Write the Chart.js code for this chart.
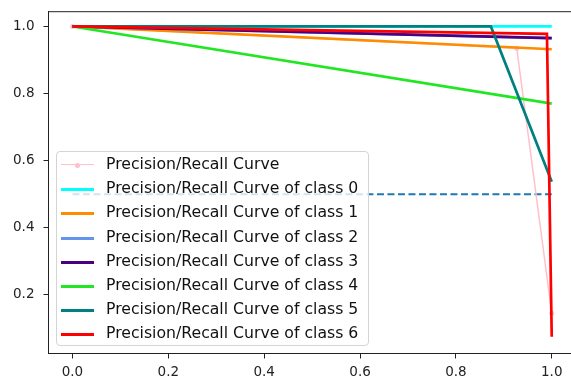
<!DOCTYPE html>
<html>
<head>
<meta charset="utf-8">
<script src="https://cdn.jsdelivr.net/npm/chart.js@4/dist/chart.umd.min.js"></script>
<style>
  body { margin: 0; background: #fff; }
  #wrap { position: relative; width: 571px; height: 379px; overflow: hidden; }
  #prChart { position: absolute; left: 0; top: 0; }
  #legend {
    position: absolute; left: 56px; top: 151px; width: 311px; height: 193px;
    border: 1px solid #d4d4d4; border-radius: 4px;
    background: rgba(255, 255, 255, 0.8);
    font-family: "DejaVu Sans", sans-serif; font-size: 15.7px; color: #111;
  }
  .row { position: absolute; left: 0; height: 24px; width: 100%; }
  .handle { position: absolute; left: 4px; width: 33px; top: 11px; }
  .dot { position: absolute; left: 14px; top: -2px; width: 5px; height: 5px; border-radius: 50%; }
  .label { position: absolute; left: 49px; top: 1px; white-space: nowrap; line-height: 20px; }
</style>
</head>
<body>
<div id="wrap">
  <canvas id="prChart" width="580" height="379"></canvas>
  <div id="legend"></div>
</div>
<script>
// recall (x) / precision (y)
const recallAll = [0.0, 0.927, 1.0];
const precisionAll = [1.0, 0.935, 0.145];

const recall0 = [0.0, 1.0];
const precision0 = [1.0, 1.0];
const recall1 = [0.0, 1.0];
const precision1 = [1.0, 0.932];
const recall2 = [0.0, 1.0];
const precision2 = [1.0, 0.965];
const recall3 = [0.0, 1.0];
const precision3 = [1.0, 0.965];
const recall4 = [0.0, 1.0];
const precision4 = [1.0, 0.77];
const recall5 = [0.0, 0.873, 1.0];
const precision5 = [1.0, 1.0, 0.537];
const recall6 = [0.0, 0.99, 1.0];
const precision6 = [1.0, 0.978, 0.075];

// dashed line, no legend entry
const baseRecall = [0.0, 1.0];
const basePrecision = [0.5, 0.5];

const seriesLabels = [
  'Precision/Recall Curve',
  'Precision/Recall Curve of class 0',
  'Precision/Recall Curve of class 1',
  'Precision/Recall Curve of class 2',
  'Precision/Recall Curve of class 3',
  'Precision/Recall Curve of class 4',
  'Precision/Recall Curve of class 5',
  'Precision/Recall Curve of class 6'
];
const seriesColors = ['pink', 'aqua', 'darkorange', 'cornflowerblue', 'indigo', '#22e622', 'teal', 'red'];
const seriesX = [recallAll, recall0, recall1, recall2, recall3, recall4, recall5, recall6];
const seriesY = [precisionAll, precision0, precision1, precision2, precision3, precision4, precision5, precision6];

const xTicks = [0.0, 0.2, 0.4, 0.6, 0.8, 1.0];
const yTicks = [0.2, 0.4, 0.6, 0.8, 1.0];

function toPoints(xs, ys) {
  var pts = [];
  for (var i = 0; i < xs.length; i++) {
    pts.push({x: xs[i], y: ys[i]});
  }
  return pts;
}

var datasets = [{
  label: 'baseline',
  data: toPoints(baseRecall, basePrecision),
  borderColor: '#1f77b4',
  borderWidth: 2,
  borderDash: [7, 3.5],
  pointRadius: 0,
  order: 1
}];

for (var i = 0; i < seriesLabels.length; i++) {
  datasets.push({
    label: seriesLabels[i],
    data: toPoints(seriesX[i], seriesY[i]),
    borderColor: seriesColors[i],
    backgroundColor: seriesColors[i],
    borderWidth: i == 0 ? 1.5 : 2.7,
    pointRadius: i == 0 ? 2.5 : 0,
    pointBorderWidth: 0,
    order: -i
  });
}

// matplotlib style box round the plot
const framePlugin = {
  id: 'frame',
  afterDraw: function(chart) {
    var a = chart.chartArea;
    var ctx = chart.ctx;
    ctx.save();
    ctx.strokeStyle = '#222';
    ctx.lineWidth = 1;
    ctx.strokeRect(a.left, a.top, a.right - a.left, a.bottom - a.top);
    ctx.restore();
  }
};

var tickFont = {family: 'DejaVu Sans', size: 13.5};

new Chart(document.getElementById('prChart'), {
  type: 'line',
  data: {datasets: datasets},
  options: {
    responsive: false,
    animation: false,
    devicePixelRatio: 1,
    layout: {padding: {left: 0, top: 11.7, right: 4.3, bottom: 0}},
    plugins: {legend: {display: false}, tooltip: {enabled: false}},
    elements: {line: {tension: 0}},
    scales: {
      x: {
        type: 'linear',
        min: -0.05,
        max: 1.05,
        afterFit: function(s) { s.height = 25.5; s.paddingLeft = 0; s.paddingRight = 0; },
        afterBuildTicks: function(s) { s.ticks = xTicks.map(function(v) { return {value: v}; }); },
        grid: {drawOnChartArea: false, drawTicks: true, tickLength: 5, color: '#222'},
        border: {color: '#222', width: 1},
        ticks: {
          font: tickFont, color: '#222', padding: 6, maxRotation: 0,
          callback: function(v) { return v.toFixed(1); }
        }
      },
      y: {
        type: 'linear',
        min: 0.025,
        max: 1.044,
        afterFit: function(s) { s.width = 48.5; s.paddingTop = 0; s.paddingBottom = 0; },
        afterBuildTicks: function(s) { s.ticks = yTicks.map(function(v) { return {value: v}; }); },
        grid: {drawOnChartArea: false, drawTicks: true, tickLength: 5, color: '#222'},
        border: {color: '#222', width: 1},
        ticks: {
          font: tickFont, color: '#222', padding: 9,
          callback: function(v) { return v.toFixed(1); }
        }
      }
    }
  },
  plugins: [framePlugin]
});

// legend as html, built from the same lists
var legend = document.getElementById('legend');
for (var j = 0; j < seriesLabels.length; j++) {
  var row = document.createElement('div');
  row.className = 'row';
  row.style.top = (1 + j * 24.2) + 'px';
  var handle = document.createElement('div');
  handle.className = 'handle';
  handle.style.borderTop = (j == 0 ? 1.5 : 3) + 'px solid ' + seriesColors[j];
  if (j == 0) {
    var dot = document.createElement('div');
    dot.className = 'dot';
    dot.style.background = seriesColors[j];
    handle.appendChild(dot);
  }
  var label = document.createElement('div');
  label.className = 'label';
  label.textContent = seriesLabels[j];
  row.appendChild(handle);
  row.appendChild(label);
  legend.appendChild(row);
}
</script>
</body>
</html>
